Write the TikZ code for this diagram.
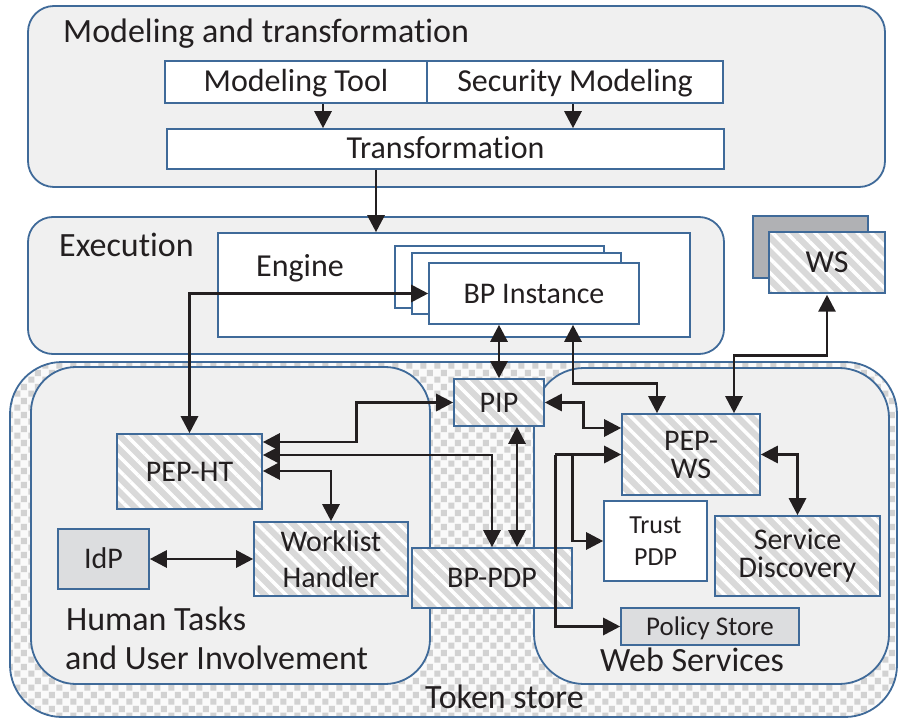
\documentclass[tikz,border=0pt]{standalone}
\usepackage{fontspec}
\setmainfont{Carlito}[Ligatures={NoCommon}]
\usetikzlibrary{arrows.meta,patterns.meta}

\definecolor{edge}{HTML}{3F6A99}
\definecolor{panel}{HTML}{F0F0F0}
\definecolor{hgray}{HTML}{D9D9D9}
\definecolor{lgray}{HTML}{DCDDDF}
\definecolor{dgray}{HTML}{B0B1B4}
\definecolor{ink}{HTML}{231F20}
\definecolor{ckgray}{HTML}{D2D2D2}
\definecolor{ckbg}{HTML}{FAFAFA}

\newcommand\fnttitle{\fontsize{34}{40}\selectfont}
\newcommand\fnttop{\fontsize{32}{36}\selectfont}
\newcommand\fntbox{\fontsize{30}{34}\selectfont}

% checker board used for the token store area
\tikzdeclarepattern{
  name=tokencheck,
  type=uncolored,
  bounding box={(0pt,0pt) and (14pt,14pt)},
  tile size={(14pt,14pt)},
  code={
    \pgfpathrectangle{\pgfpoint{0.3pt}{0.3pt}}{\pgfpoint{6.6pt}{6.6pt}}
    \pgfpathrectangle{\pgfpoint{7.3pt}{7.3pt}}{\pgfpoint{6.6pt}{6.6pt}}
    \pgfusepath{fill}
  }
}

\begin{document}
\begin{tikzpicture}[x=1pt,y=-1pt,
  cont/.style={draw=edge, line width=1.8pt, fill=panel, inner sep=0pt, rectangle},
  tokenarea/.style={draw=edge, line width=1.8pt, inner sep=0pt, rectangle,
    preaction={fill=ckbg}, pattern=tokencheck, pattern color=ckgray},
  box/.style={draw=edge, line width=1.6pt, inner sep=0pt, rectangle, text=ink, font=\fntbox},
  onel/.style={text height=19.5pt, text depth=0pt},
  whitebox/.style={box, fill=white},
  greybox/.style={box, fill=lgray},
  hatchbox/.style={box, preaction={fill=hgray},
    pattern={Lines[angle=-45,distance=10pt,line width=3.5pt]}, pattern color=white},
  ttl/.style={text=ink, font=\fnttitle, inner sep=0pt},
  tipA/.tip={Triangle[length=17pt,width=17pt]},
  fwd/.style={draw=ink, line width=2.9pt, -tipA},
  dbl/.style={draw=ink, line width=2.9pt, tipA-tipA}
]
\useasboundingbox (0,0) rectangle (900,719);

% ---------- containers ----------
\node[cont, rounded corners=26pt, minimum width=857pt, minimum height=181pt] (modcont) at (456.5,96.5) {};
\node[cont, rounded corners=25pt, minimum width=696pt, minimum height=137pt] (execcont) at (376,285.5) {};
\node[tokenarea, rounded corners=52pt, minimum width=887pt, minimum height=355pt] (token) at (453.5,539.5) {};
\node[cont, rounded corners=45pt, minimum width=399pt, minimum height=317pt] (human) at (230.5,525.5) {};
\node[cont, rounded corners=50pt, minimum width=355pt, minimum height=316pt] (websvc) at (711.5,526) {};

% ---------- titles ----------
\node[ttl, anchor=base west] (tmod) at (63,43) {Modeling and transformation};
\node[ttl, anchor=base west] (texec) at (59,257) {Execution};
\node[ttl, anchor=base west] (thuman1) at (66,630) {Human Tasks};
\node[ttl, anchor=base west] (thuman2) at (65,669) {and User Involvement};
\node[ttl, anchor=base] (tweb) at (692,671) {Web Services};
\node[ttl, anchor=base west] (ttoken) at (425,708) {Token store};

% ---------- modeling ----------
\node[whitebox, onel, font=\fnttop, minimum width=262pt, minimum height=42pt] (mtool) at (296,82) {Modeling Tool};
\node[whitebox, onel, font=\fnttop, minimum width=296pt, minimum height=42pt] (secmod) at (575,82) {Security Modeling};
\node[whitebox, onel, font=\fnttop, minimum width=557pt, minimum height=40pt] (transf) at (445.5,149) {Transformation};

% ---------- execution ----------
\node[whitebox, minimum width=472pt, minimum height=104pt] (engine) at (454,285) {};
\node[ttl, font=\fnttop, anchor=base west] (tengine) at (256,277) {Engine};
\node[whitebox, minimum width=209pt, minimum height=62pt] (bp1) at (499.5,277) {};
\node[whitebox, minimum width=209pt, minimum height=61pt] (bp2) at (516.5,283.5) {};
\node[whitebox, onel, minimum width=210pt, minimum height=61pt] (bp3) at (534,293.5) {BP Instance};

% ---------- external web service ----------
\node[box, fill=dgray, minimum width=115pt, minimum height=62pt] (wsback) at (810.5,247) {};
\node[hatchbox, onel, font=\fnttop, minimum width=116pt, minimum height=61pt] (ws) at (827,262.5) {WS};

% ---------- components ----------
\node[hatchbox, onel, minimum width=90pt, minimum height=47pt] (pip) at (499,402.5) {PIP};
\node[hatchbox, align=center, font=\fontsize{30}{28}\selectfont, minimum width=138pt, minimum height=81pt] (pepws) at (691,454.5) {PEP-\\WS};
\node[whitebox, align=center, font=\fontsize{26}{32}\selectfont, minimum width=103pt, minimum height=80pt] (trust) at (655.5,541) {Trust\\PDP};
\node[hatchbox, align=center, font=\fontsize{30}{28}\selectfont, minimum width=165pt, minimum height=80pt] (sd) at (797.5,556) {Service\\Discovery};
\node[greybox, text height=17pt, text depth=0pt, font=\fontsize{27}{32}\selectfont, minimum width=178pt, minimum height=37pt] (pstore) at (710,626.5) {Policy Store};
\node[hatchbox, onel, minimum width=145pt, minimum height=75pt] (pepht) at (189.5,471.5) {PEP-HT};
\node[hatchbox, align=center, font=\fontsize{30}{36}\selectfont, minimum width=154pt, minimum height=74pt] (wl) at (331,559) {Worklist\\Handler};
\node[greybox, onel, minimum width=91pt, minimum height=60pt] (idp) at (103.5,559) {IdP};
\node[hatchbox, onel, minimum width=160pt, minimum height=60pt] (bppdp) at (492,578) {BP-PDP};

% ---------- connectors ----------
\draw[fwd] ([xshift=27pt]mtool.south) -- ([xshift=27pt]mtool.south |- transf.north);
\draw[fwd] ([xshift=-2pt]secmod.south) -- ([xshift=-2pt]secmod.south |- transf.north);
\draw[fwd] ([xshift=-69.5pt]transf.south) -- ([xshift=-69.5pt]transf.south |- engine.north);

\draw[dbl] (pepht.north) |- (bp3.west);
\draw[dbl] (pip.north) -- (pip.north |- bp3.south);
\draw[dbl] ([xshift=39pt]bp3.south) -- ++(0,59) -| ([xshift=-34pt]pepws.north);
\draw[dbl] (ws.south) -- ++(0,60.5) -| ([xshift=43pt]pepws.north);

\draw[dbl] (pip.west) -- ++(-97,0) |- ([yshift=29.5pt]pepht.east);
\draw[dbl] ([yshift=16.5pt]pepht.east) -| (bppdp.north);
\draw[dbl] ([yshift=0.5pt]pepht.east) -| (wl.north);
\draw[dbl] ([xshift=18pt]pip.south) -- ([xshift=18pt]pip.south |- bppdp.north);
\draw[dbl] (pip.east) -- ++(39,0) |- ([yshift=26.5pt]pepws.west);
\draw[dbl] (pepws.east) -| (sd.north);

\coordinate (bustop) at ([xshift=-66pt]pepws.west);
\coordinate (busfork) at ([xshift=-49pt]pepws.west);
\draw[fwd] (bustop) -- (pepws.west);
\draw[fwd] (bustop) |- (pstore.west);
\draw[fwd] (busfork) |- (trust.west);

\draw[dbl] (idp.east) -- (wl.west);
\end{tikzpicture}
\end{document}
